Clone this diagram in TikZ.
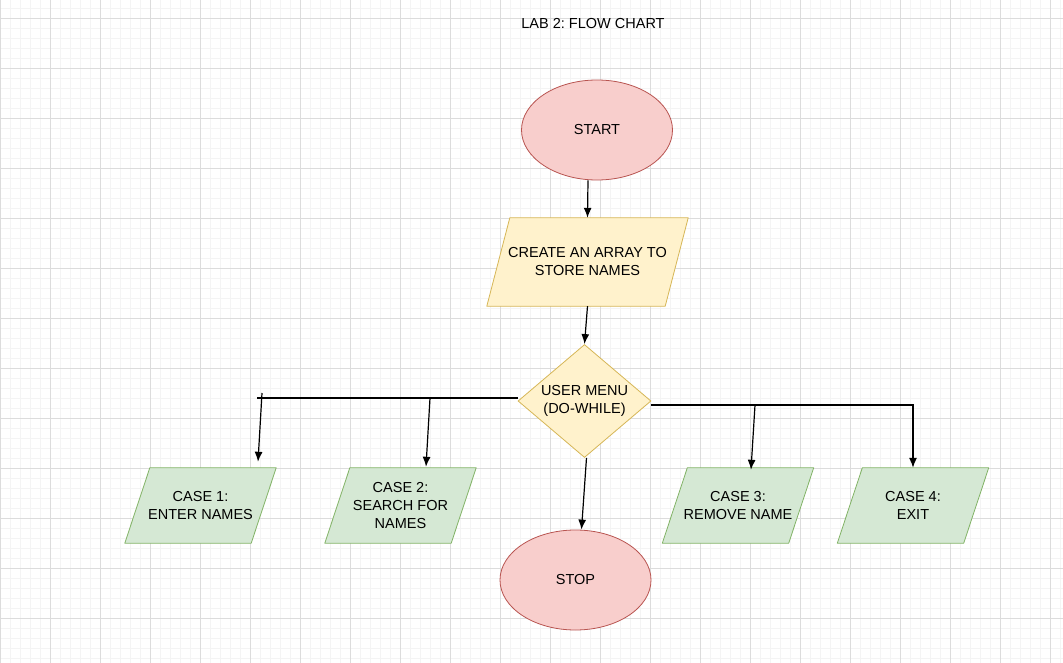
\documentclass[tikz,border=0pt]{standalone}
\usepackage{fontspec}
\setmainfont{Liberation Sans}
\usepackage{tikz}
\usetikzlibrary{positioning, calc, shapes.geometric, arrows.meta, backgrounds}

\definecolor{termfill}{HTML}{F8CECC}
\definecolor{termdraw}{HTML}{B85450}
\definecolor{stepfill}{HTML}{FFF2CC}
\definecolor{stepdraw}{HTML}{D6B656}
\definecolor{casefill}{HTML}{D5E8D4}
\definecolor{casedraw}{HTML}{82B366}
\definecolor{gridminor}{HTML}{F4F4F4}
\definecolor{gridmajor}{HTML}{DCDCDC}
\newcommand{\flowfont}{\fontsize{14.5}{18}\selectfont}
\frenchspacing
\pgfdeclarelayer{grid}
\pgfsetlayers{grid,background,main}

\begin{document}
\begin{tikzpicture}[x=1pt, y=-1pt]
\tikzstyle{terminal}=[ellipse, draw=termdraw, fill=termfill, line width=0.8pt,
minimum width=151pt, minimum height=100pt, inner sep=0pt, font=\flowfont]
\tikzstyle{io}=[rectangle, minimum width=178pt, minimum height=88pt, inner sep=0pt,
align=center, font=\flowfont]
\tikzstyle{casebox}=[io, minimum width=126pt, minimum height=75pt]
\tikzstyle{iopara}=[draw=stepdraw, fill=stepfill, line width=0.8pt, line join=round]
\tikzstyle{casepara}=[iopara, draw=casedraw, fill=casefill]
\tikzstyle{decision}=[diamond, aspect=1.2, draw=stepdraw, fill=stepfill, line width=0.8pt,
minimum width=133pt, minimum height=113pt, inner sep=0pt, align=center, font=\flowfont]
\tikzstyle{flow}=[-{Latex[length=10pt, width=8pt]}, line width=1.2pt]
\tikzstyle{branch}=[line width=1.2pt]

% grid
\useasboundingbox (0,0) rectangle (1063,663);
\begin{pgfonlayer}{grid}
\fill[white] (0,0) rectangle (1063,663);
\foreach \x in {0,10,...,1060} \draw[gridminor, line width=0.7pt] (\x,0) -- (\x,663);
\foreach \y in {8,18,...,658} \draw[gridminor, line width=0.7pt] (0,\y) -- (1063,\y);
\foreach \x in {0,50,...,1050} \draw[gridmajor, line width=0.7pt] (\x,0) -- (\x,663);
\foreach \y in {18,68,...,618} \draw[gridmajor, line width=0.7pt] (0,\y) -- (1063,\y);
\end{pgfonlayer}

% title
\node (title) at (593,24) [font=\flowfont] {LAB 2: FLOW CHART};

% main column
\node (start) at (597,130) [terminal] {START};
\node (create) at (587.5,262) [io] {CREATE AN ARRAY TO\\STORE NAMES};
\node (menu) at (584.5,401) [decision] {USER MENU\\(DO-WHILE)};
\node (stop) at (575.5,580) [terminal] {STOP};

% cases
\node (case1) at (200.5,505.5) [casebox] {CASE 1:\\ENTER NAMES};
\node (case2) at (400.5,505.5) [casebox] {CASE 2:\\SEARCH FOR\\NAMES};
\node (case3) at (738,505.5) [casebox] {CASE 3:\\REMOVE NAME};
\node (case4) at (913,505.5) [casebox] {CASE 4:\\EXIT};

% parallelogram outlines
\begin{scope}[on background layer]
\filldraw[iopara] ($(create.south west)+(-11.5,0)$) -- ($(create.north west)+(11.5,0)$)
  -- ($(create.north east)+(11.5,0)$) -- ($(create.south east)+(-11.5,0)$) -- cycle;
\foreach \n in {case1,case2,case3,case4}
  \filldraw[casepara] ($(\n.south west)+(-12.5,0)$) -- ($(\n.north west)+(12.5,0)$)
    -- ($(\n.north east)+(12.5,0)$) -- ($(\n.south east)+(-12.5,0)$) -- cycle;
\end{scope}

% branch points
\coordinate (lend) at (257,398);
\coordinate (ltick) at (262,393);
\coordinate (tap2) at (430,398);
\coordinate (tap3) at (755,405);

% connections
\draw[flow] ([xshift=-9pt]start.south) -- (create.north);
\draw[flow] (create.south) -- (menu.north);
\draw[flow] ([xshift=2pt]menu.south) -- ([xshift=6pt]stop.north);
\draw[branch] ([yshift=3pt]menu.west) -- (lend);
\draw[flow] (ltick) -- ($(ltick |- case1.north)+(-4,-6)$);
\draw[flow] (tap2) -- ($(tap2 |- case2.north)+(-4,-1)$);
\draw[flow] ([yshift=-4pt]menu.east) -| (case4.north);
\draw[flow] (tap3) -- ($(tap3 |- case3.north)+(-4,2)$);

\end{tikzpicture}
\end{document}
